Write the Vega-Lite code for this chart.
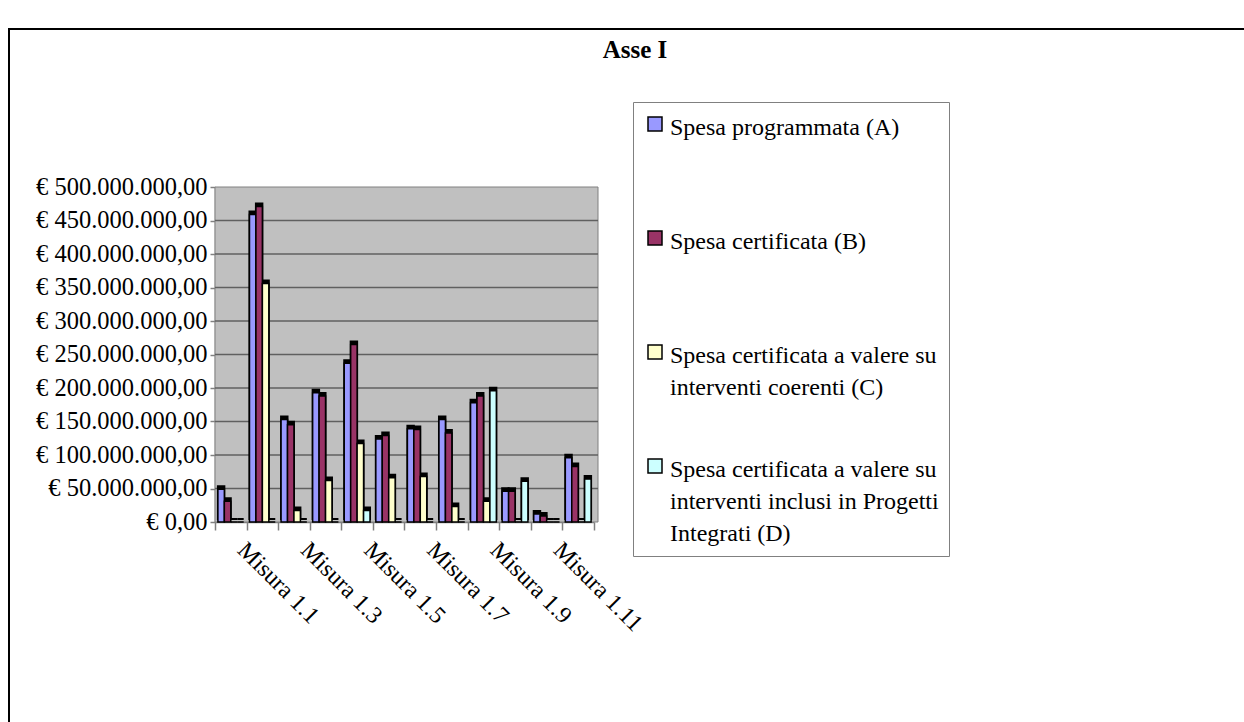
{
  "$schema": "https://vega.github.io/schema/vega-lite/v6.json",
  "autosize": {"type": "none"},
  "padding": {"left": 9, "top": 29, "right": 0, "bottom": 0},
  "width": 1240,
  "height": 700,
  "background": "white",
  "title": {"text": "Asse I", "fontSize": 25, "fontWeight": "bold", "font": "Liberation Serif", "anchor": "middle", "frame": "group", "offset": -34, "baseline": "top", "dx": 6, "color": "black"},
  "config": {
    "view": {"stroke": "black", "strokeWidth": 2},
    "font": "Liberation Serif",
    "locale": {"number": {"decimal": ",", "thousands": ".", "grouping": [3], "currency": ["€ ", ""]}}
  },
  "data": {"values": [
    {"misura": "Misura 1.1", "serie": "Spesa programmata (A)", "valore": 49000000},
    {"misura": "Misura 1.1", "serie": "Spesa certificata (B)", "valore": 31000000},
    {"misura": "Misura 1.1", "serie": "Spesa certificata a valere su interventi coerenti (C)", "valore": 0},
    {"misura": "Misura 1.1", "serie": "Spesa certificata a valere su interventi inclusi in Progetti Integrati (D)", "valore": 0},
    {"misura": "Misura 1.2", "serie": "Spesa programmata (A)", "valore": 459000000},
    {"misura": "Misura 1.2", "serie": "Spesa certificata (B)", "valore": 471000000},
    {"misura": "Misura 1.2", "serie": "Spesa certificata a valere su interventi coerenti (C)", "valore": 356000000},
    {"misura": "Misura 1.2", "serie": "Spesa certificata a valere su interventi inclusi in Progetti Integrati (D)", "valore": 0},
    {"misura": "Misura 1.3", "serie": "Spesa programmata (A)", "valore": 153000000},
    {"misura": "Misura 1.3", "serie": "Spesa certificata (B)", "valore": 145000000},
    {"misura": "Misura 1.3", "serie": "Spesa certificata a valere su interventi coerenti (C)", "valore": 17000000},
    {"misura": "Misura 1.3", "serie": "Spesa certificata a valere su interventi inclusi in Progetti Integrati (D)", "valore": 0},
    {"misura": "Misura 1.4", "serie": "Spesa programmata (A)", "valore": 193000000},
    {"misura": "Misura 1.4", "serie": "Spesa certificata (B)", "valore": 188000000},
    {"misura": "Misura 1.4", "serie": "Spesa certificata a valere su interventi coerenti (C)", "valore": 62000000},
    {"misura": "Misura 1.4", "serie": "Spesa certificata a valere su interventi inclusi in Progetti Integrati (D)", "valore": 0},
    {"misura": "Misura 1.5", "serie": "Spesa programmata (A)", "valore": 237000000},
    {"misura": "Misura 1.5", "serie": "Spesa certificata (B)", "valore": 265000000},
    {"misura": "Misura 1.5", "serie": "Spesa certificata a valere su interventi coerenti (C)", "valore": 117000000},
    {"misura": "Misura 1.5", "serie": "Spesa certificata a valere su interventi inclusi in Progetti Integrati (D)", "valore": 17000000},
    {"misura": "Misura 1.6", "serie": "Spesa programmata (A)", "valore": 124000000},
    {"misura": "Misura 1.6", "serie": "Spesa certificata (B)", "valore": 129000000},
    {"misura": "Misura 1.6", "serie": "Spesa certificata a valere su interventi coerenti (C)", "valore": 66000000},
    {"misura": "Misura 1.6", "serie": "Spesa certificata a valere su interventi inclusi in Progetti Integrati (D)", "valore": 0},
    {"misura": "Misura 1.7", "serie": "Spesa programmata (A)", "valore": 139000000},
    {"misura": "Misura 1.7", "serie": "Spesa certificata (B)", "valore": 138000000},
    {"misura": "Misura 1.7", "serie": "Spesa certificata a valere su interventi coerenti (C)", "valore": 68000000},
    {"misura": "Misura 1.7", "serie": "Spesa certificata a valere su interventi inclusi in Progetti Integrati (D)", "valore": 0},
    {"misura": "Misura 1.8", "serie": "Spesa programmata (A)", "valore": 153000000},
    {"misura": "Misura 1.8", "serie": "Spesa certificata (B)", "valore": 133000000},
    {"misura": "Misura 1.8", "serie": "Spesa certificata a valere su interventi coerenti (C)", "valore": 23000000},
    {"misura": "Misura 1.8", "serie": "Spesa certificata a valere su interventi inclusi in Progetti Integrati (D)", "valore": 0},
    {"misura": "Misura 1.9", "serie": "Spesa programmata (A)", "valore": 178000000},
    {"misura": "Misura 1.9", "serie": "Spesa certificata (B)", "valore": 188000000},
    {"misura": "Misura 1.9", "serie": "Spesa certificata a valere su interventi coerenti (C)", "valore": 31000000},
    {"misura": "Misura 1.9", "serie": "Spesa certificata a valere su interventi inclusi in Progetti Integrati (D)", "valore": 196000000},
    {"misura": "Misura 1.10", "serie": "Spesa programmata (A)", "valore": 46000000},
    {"misura": "Misura 1.10", "serie": "Spesa certificata (B)", "valore": 46000000},
    {"misura": "Misura 1.10", "serie": "Spesa certificata a valere su interventi coerenti (C)", "valore": 0},
    {"misura": "Misura 1.10", "serie": "Spesa certificata a valere su interventi inclusi in Progetti Integrati (D)", "valore": 61000000},
    {"misura": "Misura 1.11", "serie": "Spesa programmata (A)", "valore": 12000000},
    {"misura": "Misura 1.11", "serie": "Spesa certificata (B)", "valore": 9000000},
    {"misura": "Misura 1.11", "serie": "Spesa certificata a valere su interventi coerenti (C)", "valore": 0},
    {"misura": "Misura 1.11", "serie": "Spesa certificata a valere su interventi inclusi in Progetti Integrati (D)", "valore": 0},
    {"misura": "Misura 1.12", "serie": "Spesa programmata (A)", "valore": 96000000},
    {"misura": "Misura 1.12", "serie": "Spesa certificata (B)", "valore": 83000000},
    {"misura": "Misura 1.12", "serie": "Spesa certificata a valere su interventi coerenti (C)", "valore": 0},
    {"misura": "Misura 1.12", "serie": "Spesa certificata a valere su interventi inclusi in Progetti Integrati (D)", "valore": 64000000}
  ]},
  "resolve": {"scale": {"x": "independent", "y": "independent"}},
  "layer": [
    {
      "data": {"values": [{"piano": "sfondo"}]},
      "mark": {"type": "rect", "fill": "#c0c0c0", "stroke": "#808080", "strokeWidth": 1},
      "encoding": {
        "x": {"datum": 0, "type": "quantitative", "scale": {"domain": [0, 1], "range": [206, 589], "nice": false, "zero": false}, "axis": null},
        "x2": {"datum": 1},
        "y": {"datum": 0, "type": "quantitative", "scale": {"domain": [0, 500000000], "range": [493, 158], "nice": false}, "axis": null},
        "y2": {"datum": 500000000}
      }
    },
    {
      "data": {"values": [
        {"griglia": 50000000}, {"griglia": 100000000}, {"griglia": 150000000}, {"griglia": 200000000}, {"griglia": 250000000},
        {"griglia": 300000000}, {"griglia": 350000000}, {"griglia": 400000000}, {"griglia": 450000000}
      ]},
      "mark": {"type": "rule", "color": "#606060", "strokeWidth": 1.6},
      "encoding": {
        "x": {"datum": 0, "type": "quantitative", "scale": {"domain": [0, 1], "range": [206, 589], "nice": false, "zero": false}, "axis": null},
        "x2": {"datum": 1},
        "y": {"field": "griglia", "type": "quantitative", "scale": {"domain": [0, 500000000], "range": [493, 158], "nice": false}, "axis": null}
      }
    },
    {
      "layer": [
        {
          "mark": {"type": "bar", "color": "black", "yOffset": -3, "stroke": "black", "strokeWidth": 2},
          "encoding": {
            "x": {
              "field": "misura", "type": "nominal",
              "sort": ["Misura 1.1", "Misura 1.2", "Misura 1.3", "Misura 1.4", "Misura 1.5", "Misura 1.6", "Misura 1.7", "Misura 1.8", "Misura 1.9", "Misura 1.10", "Misura 1.11", "Misura 1.12"]
            },
            "xOffset": {
              "field": "serie", "type": "nominal",
              "sort": ["Spesa programmata (A)", "Spesa certificata (B)", "Spesa certificata a valere su interventi coerenti (C)", "Spesa certificata a valere su interventi inclusi in Progetti Integrati (D)"]
            },
            "y": {"field": "valore", "type": "quantitative"}
          }
        },
        {
          "mark": {"type": "bar", "stroke": "black", "strokeWidth": 1.5},
          "encoding": {
            "x": {
              "field": "misura", "type": "nominal",
              "sort": ["Misura 1.1", "Misura 1.2", "Misura 1.3", "Misura 1.4", "Misura 1.5", "Misura 1.6", "Misura 1.7", "Misura 1.8", "Misura 1.9", "Misura 1.10", "Misura 1.11", "Misura 1.12"],
              "scale": {"range": [206, 585], "paddingInner": 0, "paddingOuter": 0},
              "axis": {
                "title": null, "orient": "bottom", "offset": -207,
                "domainColor": "#808080", "domainWidth": 1.5,
                "tickColor": "#808080", "tickSize": 8, "tickWidth": 1.5, "tickBand": "extent",
                "labelAngle": 45, "labelAlign": "left", "labelBaseline": "middle",
                "labelPadding": 16, "labelOffset": 10,
                "labelFont": "Liberation Serif", "labelFontSize": 24, "labelColor": "black",
                "labelOverlap": false, "labelLimit": 400,
                "labelExpr": "indexof(['Misura 1.1','Misura 1.3','Misura 1.5','Misura 1.7','Misura 1.9','Misura 1.11'], datum.value) >= 0 ? datum.value : ''"
              }
            },
            "xOffset": {
              "field": "serie", "type": "nominal",
              "sort": ["Spesa programmata (A)", "Spesa certificata (B)", "Spesa certificata a valere su interventi coerenti (C)", "Spesa certificata a valere su interventi inclusi in Progetti Integrati (D)"],
              "scale": {"paddingInner": 0, "paddingOuter": 0.45}
            },
            "y": {
              "field": "valore", "type": "quantitative",
              "scale": {"domain": [0, 500000000], "range": [493, 158], "nice": false},
              "axis": {
                "title": null, "orient": "left", "offset": -206, "grid": false,
                "values": [0, 50000000, 100000000, 150000000, 200000000, 250000000, 300000000, 350000000, 400000000, 450000000, 500000000],
                "format": "$,.2f",
                "domainColor": "#808080", "domainWidth": 1.5,
                "tickColor": "#808080", "tickSize": 5, "tickWidth": 1.5,
                "labelPadding": 3, "labelFont": "Liberation Serif", "labelFontSize": 24.5, "labelColor": "black"
              }
            },
            "color": {
              "field": "serie", "type": "nominal",
              "scale": {
                "domain": ["Spesa programmata (A)", "Spesa certificata (B)", "Spesa certificata a valere su interventi coerenti (C)", "Spesa certificata a valere su interventi inclusi in Progetti Integrati (D)"],
                "range": ["#9999ff", "#993366", "#ffffcc", "#ccffff"]
              },
              "legend": {
                "title": null, "orient": "none", "legendX": 624, "legendY": 73,
                "strokeColor": "#808080", "fillColor": "white", "padding": 10,
                "symbolType": "square", "symbolSize": 196, "symbolStrokeColor": "black", "symbolStrokeWidth": 1.5, "symbolOpacity": 1,
                "labelFont": "Liberation Serif", "labelFontSize": 24, "labelColor": "black", "labelLimit": 400,
                "labelOffset": 3, "labelBaseline": "top", "rowPadding": 22,
                "labelExpr": "datum.label == 'Spesa programmata (A)' ? ['Spesa programmata (A)', '', ''] : datum.label == 'Spesa certificata (B)' ? ['Spesa certificata (B)', '', ''] : datum.label == 'Spesa certificata a valere su interventi coerenti (C)' ? ['Spesa certificata a valere su', 'interventi coerenti (C)', ''] : ['Spesa certificata a valere su', 'interventi inclusi in Progetti', 'Integrati (D)']",
                "encode": {"labels": {"update": {"lineHeight": {"value": 32}, "dy": {"value": -8}}}}
              }
            }
          }
        }
      ]
    }
  ]
}
